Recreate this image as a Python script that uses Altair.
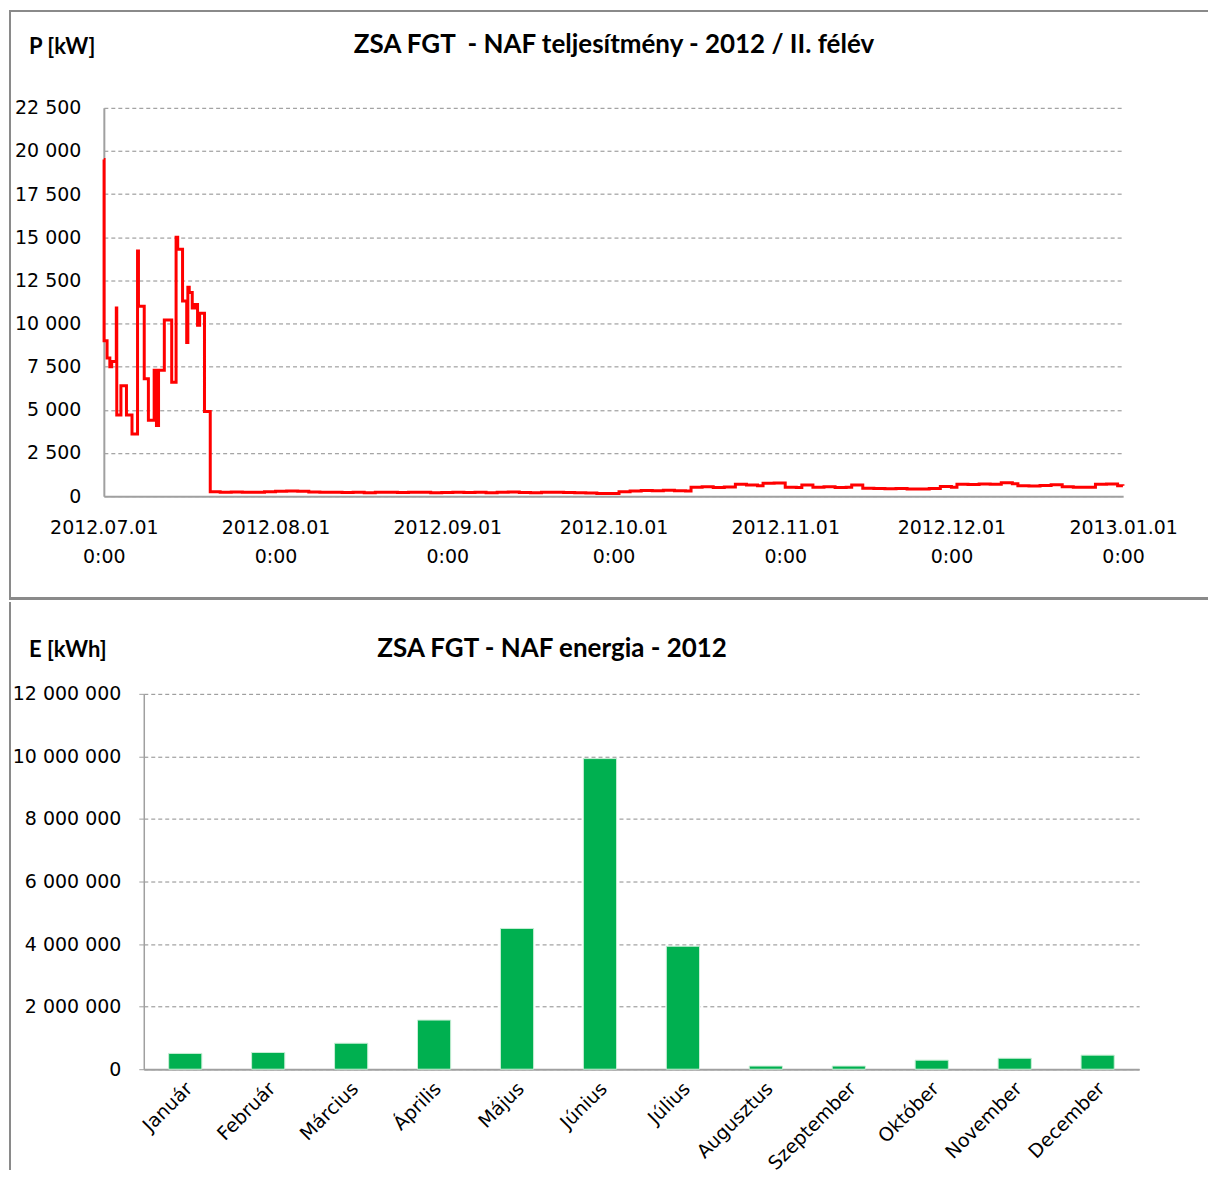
import altair as alt
import pandas as pd

# ---------------- data ----------------
TITLE_P = "ZSA FGT\u00a0 - NAF teljesítmény - 2012 / II. félév"
UNIT_P = "P [kW]"
TITLE_E = "ZSA FGT - NAF energia - 2012"
UNIT_E = "E [kWh]"

p_times = [
    "2012-07-01T00:00", "2012-07-01T01:00", "2012-07-01T14:00", "2012-07-02T02:00",
    "2012-07-02T10:00", "2012-07-03T06:00", "2012-07-03T08:00", "2012-07-04T02:00",
    "2012-07-05T02:00", "2012-07-06T02:00", "2012-07-07T02:00", "2012-07-07T06:00",
    "2012-07-08T07:00", "2012-07-09T01:00", "2012-07-10T02:00", "2012-07-10T12:00",
    "2012-07-10T21:00", "2012-07-11T22:00", "2012-07-13T06:00", "2012-07-14T01:00",
    "2012-07-14T08:00", "2012-07-15T05:00", "2012-07-15T23:00", "2012-07-16T04:00",
    "2012-07-16T10:00", "2012-07-16T23:00", "2012-07-17T10:00", "2012-07-17T22:00",
    "2012-07-18T07:00", "2012-07-19T04:00", "2012-07-20T05:00",
    "2012-07-22T00:00", "2012-07-24T00:00", "2012-07-26T00:00", "2012-07-28T00:00",
    "2012-07-30T00:00", "2012-08-01T00:00", "2012-08-03T00:00", "2012-08-05T00:00",
    "2012-08-07T00:00", "2012-08-09T00:00", "2012-08-11T00:00", "2012-08-13T00:00",
    "2012-08-15T00:00", "2012-08-17T00:00", "2012-08-19T00:00", "2012-08-21T00:00",
    "2012-08-23T00:00", "2012-08-25T00:00", "2012-08-27T00:00", "2012-08-29T00:00",
    "2012-08-31T00:00", "2012-09-02T00:00", "2012-09-04T00:00", "2012-09-06T00:00",
    "2012-09-08T00:00", "2012-09-10T00:00", "2012-09-12T00:00", "2012-09-14T00:00",
    "2012-09-16T00:00", "2012-09-18T00:00", "2012-09-20T00:00", "2012-09-22T00:00",
    "2012-09-24T00:00", "2012-09-26T00:00", "2012-09-28T00:00", "2012-09-30T00:00",
    "2012-10-02T00:00", "2012-10-04T00:00", "2012-10-06T00:00", "2012-10-08T00:00",
    "2012-10-10T00:00", "2012-10-12T00:00", "2012-10-14T00:00", "2012-10-15T00:00",
    "2012-10-17T00:00", "2012-10-19T00:00", "2012-10-21T00:00", "2012-10-23T00:00",
    "2012-10-25T00:00", "2012-10-27T00:00", "2012-10-28T00:00", "2012-10-30T00:00",
    "2012-11-01T00:00", "2012-11-03T00:00", "2012-11-04T00:00", "2012-11-06T00:00",
    "2012-11-08T00:00", "2012-11-10T00:00", "2012-11-12T00:00", "2012-11-13T00:00",
    "2012-11-15T00:00", "2012-11-17T00:00", "2012-11-19T00:00", "2012-11-21T00:00",
    "2012-11-23T00:00", "2012-11-25T00:00", "2012-11-27T00:00", "2012-11-29T00:00",
    "2012-12-01T00:00", "2012-12-02T00:00", "2012-12-04T00:00", "2012-12-06T00:00",
    "2012-12-08T00:00", "2012-12-10T00:00", "2012-12-12T00:00", "2012-12-13T00:00",
    "2012-12-15T00:00", "2012-12-17T00:00", "2012-12-19T00:00", "2012-12-21T00:00",
    "2012-12-23T00:00", "2012-12-25T00:00", "2012-12-27T00:00", "2012-12-29T00:00",
    "2012-12-31T00:00", "2012-12-31T23:00",
]
p_values = [
    19500, 9000, 8000, 7500,
    7800, 10900, 4700, 6400,
    4700, 3600, 14200, 11000,
    6800, 4400, 7300, 4100,
    7300, 10200, 6600, 15000,
    14300, 11300, 8900, 12100,
    11800, 10900, 11100, 9900,
    10600, 4900, 250,
    230, 240, 220, 230,
    250, 290, 300, 280,
    240, 220, 230, 210,
    220, 200, 230, 220,
    210, 230, 220, 200,
    210, 230, 210, 220,
    200, 220, 240, 210,
    200, 220, 230, 210,
    200, 180, 150, 160,
    250, 300, 330, 310,
    340, 320, 300, 520,
    540, 500, 530, 690,
    650, 600, 750, 760,
    520, 500, 640, 520,
    540, 500, 520, 640,
    460, 450, 430, 440,
    420, 410, 440, 560,
    520, 690, 680, 700,
    690, 770, 720, 600,
    590, 620, 660, 540,
    520, 520, 690, 700,
    610, 600,
]

months = ["Január", "Február", "Március", "Április", "Május", "Június",
          "Július", "Augusztus", "Szeptember", "Október", "November", "December"]
energy = [505000, 535000, 830000, 1570000, 4500000, 9930000,
          3930000, 100000, 100000, 290000, 350000, 450000]

x_tick_months = [(2012, 7), (2012, 8), (2012, 9), (2012, 10), (2012, 11), (2012, 12), (2013, 1)]
p_ticks = [0, 2500, 5000, 7500, 10000, 12500, 15000, 17500, 20000, 22500]
e_ticks = [0, 2000000, 4000000, 6000000, 8000000, 10000000, 12000000]

# ---------------- style ----------------
TICK_FONT = "DejaVu Sans"
TITLE_FONT = "Lato"
GRID = "#8c8c8c"
AXIS = "#a0a0a0"
FRAME = "#8a8a8a"

deco = pd.DataFrame({"k": [0]})


def dt(y, m):
    return alt.DateTime(year=y, month=m, date=1, hours=0)


def frame_rect(x, x2, y, y2):
    return alt.Chart(deco).mark_rect(color=FRAME, strokeWidth=0).encode(
        x=alt.value(x), x2=alt.value(x2), y=alt.value(y), y2=alt.value(y2))


# ---------------- top chart ----------------
pdf = pd.DataFrame({"t": p_times, "p": p_values})

line = alt.Chart(pdf).mark_line(color="#FF0000", strokeWidth=3, interpolate="step-after").encode(
    x=alt.X("t:T",
            scale=alt.Scale(domain=[dt(2012, 7), dt(2013, 1)], nice=False),
            axis=alt.Axis(values=[dt(y, m) for y, m in x_tick_months],
                          labelExpr="[timeFormat(datum.value, '%Y.%m.%d'), '0:00']",
                          grid=False, ticks=False, domainColor=AXIS, domainWidth=2,
                          labelFont=TICK_FONT, labelFontSize=19, labelColor="#000000",
                          labelLineHeight=29, labelPadding=22, labelOverlap=False,
                          labelFlush=False, labelBound=False, labelBaseline="top",
                          title=None)),
    y=alt.Y("p:Q",
            scale=alt.Scale(domain=[0, 22500], nice=False),
            axis=alt.Axis(values=p_ticks,
                          labelExpr="replace(format(datum.value, ','), ',', ' ')",
                          grid=True, gridDash=[4, 3], gridColor=GRID, gridWidth=1,
                          ticks=False, domainColor=AXIS, domainWidth=2,
                          labelFont=TICK_FONT, labelFontSize=19, labelColor="#000000",
                          labelPadding=23, title=None)),
)

top_title = alt.Chart(pd.DataFrame({"s": [TITLE_P]})).mark_text(
    font=TITLE_FONT, fontSize=26, fontWeight="bold", align="center", baseline="middle", color="#000000"
).encode(x=alt.value(511), y=alt.value(-63), text="s:N")

top_unit = alt.Chart(pd.DataFrame({"s": [UNIT_P]})).mark_text(
    font=TITLE_FONT, fontSize=22, fontWeight="bold", align="left", baseline="middle", color="#000000"
).encode(x=alt.value(-75), y=alt.value(-61), text="s:N")

top = alt.layer(
    line, top_title, top_unit,
    frame_rect(-95, -93, -98, 493),      # left border
    frame_rect(-95, 1106, -98, -96),     # top border
    frame_rect(-95, 1106, 490, 493),     # separator
).properties(width=1021, height=389)

# ---------------- bottom chart ----------------
edf = pd.DataFrame({"m": months, "e": energy})

bars = alt.Chart(edf).mark_bar(color="#00B050", stroke="#c9eed6", strokeWidth=1).encode(
    x=alt.X("m:N", sort=months,
            scale=alt.Scale(paddingInner=0.6, paddingOuter=0.3),
            axis=alt.Axis(labelAngle=-45, labelAlign="right", labelBaseline="middle",
                          ticks=False, grid=False, domainColor=AXIS, domainWidth=2,
                          labelFont=TICK_FONT, labelFontSize=19, labelColor="#000000",
                          labelPadding=16, labelOffset=4, labelOverlap=False, title=None)),
    y=alt.Y("e:Q",
            scale=alt.Scale(domain=[0, 12000000], nice=False),
            axis=alt.Axis(values=e_ticks,
                          labelExpr="replace(replace(format(datum.value, ','), ',', ' '), ',', ' ')",
                          grid=True, gridDash=[4, 3], gridColor=GRID, gridWidth=1,
                          ticks=True, tickSize=5, tickColor=AXIS, domainColor=AXIS, domainWidth=1.5,
                          labelFont=TICK_FONT, labelFontSize=19, labelColor="#000000",
                          labelPadding=18, title=None)),
)

bot_title = alt.Chart(pd.DataFrame({"s": [TITLE_E]})).mark_text(
    font=TITLE_FONT, fontSize=26, fontWeight="bold", align="center", baseline="middle", color="#000000"
).encode(x=alt.value(409), y=alt.value(-45), text="s:N")

bot_unit = alt.Chart(pd.DataFrame({"s": [UNIT_E]})).mark_text(
    font=TITLE_FONT, fontSize=22, fontWeight="bold", align="left", baseline="middle", color="#000000"
).encode(x=alt.value(-115), y=alt.value(-44), text="s:N")

bottom = alt.layer(
    bars, bot_title, bot_unit,
    frame_rect(-135, -133, -92, 477),    # left border
).properties(width=997, height=376)

spacer = alt.Chart(deco).mark_point(opacity=0).properties(width=40, height=376)

bottom_row = alt.HConcatChart(hconcat=[spacer, bottom], spacing=0, bounds="flush")

chart = alt.VConcatChart(vconcat=[top, bottom_row], spacing=0).properties(
    padding=0
).configure_view(stroke="transparent")

chart.save("out.html", embed_options={"renderer": "svg", "actions": False})
